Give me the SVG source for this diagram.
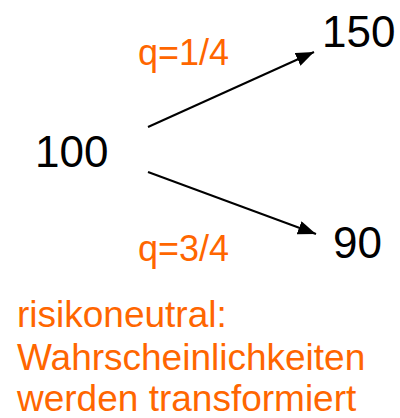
<svg xmlns="http://www.w3.org/2000/svg" width="400" height="418" viewBox="0 0 400 418">
<style>
.num{font-family:"Liberation Sans",Arial,sans-serif;font-size:44px;fill:#000}
.lbl{font-family:"Liberation Sans",Arial,sans-serif;font-size:36px;fill:#FF6600}
.note{font-family:"Liberation Sans",Arial,sans-serif;font-size:37px;fill:#FF6600}
.edge{stroke:#000;stroke-width:2;fill:none}
</style>
<defs>
<marker id="ah" markerUnits="userSpaceOnUse" markerWidth="20" markerHeight="16" refX="18" refY="7" orient="auto">
<path d="M0,0 L18,7 L0,14 Z" fill="#000"/>
</marker>
</defs>
<rect width="400" height="418" fill="#fff"/>
<g id="connectors">
<line class="edge" x1="148" y1="127" x2="314" y2="52" marker-end="url(#ah)"/>
<line class="edge" x1="148" y1="172" x2="316" y2="234" marker-end="url(#ah)"/>
</g>
<g id="n100"><text class="num" x="35" y="167">100</text></g>
<g id="n150"><text class="num" x="322" y="47">150</text></g>
<g id="n90"><text class="num" x="333" y="258">90</text></g>
<g id="lbl-up"><text class="lbl" x="138" y="65">q=1/4</text></g>
<g id="lbl-down"><text class="lbl" x="138" y="261">q=3/4</text></g>
<g id="note">
<text class="note" x="17" y="327">risikoneutral:</text>
<text class="note" x="17" y="370">Wahrscheinlichkeiten</text>
<text class="note" x="17" y="411">werden transformiert</text>
</g>
</svg>
